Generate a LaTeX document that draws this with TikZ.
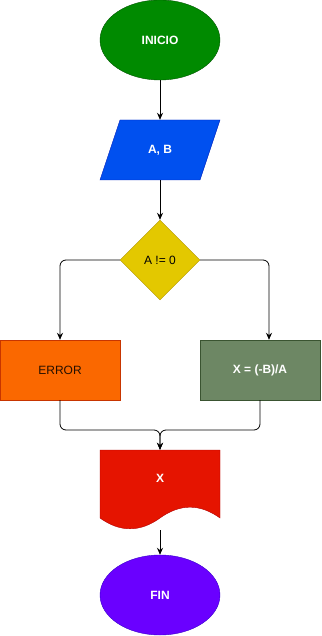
\documentclass[tikz,border=0pt]{standalone}
\usepackage{fontspec}
\setmainfont{Liberation Sans}
\usetikzlibrary{arrows.meta, calc, shapes.geometric}

\definecolor{verde}{HTML}{008A00}
\definecolor{verdeb}{HTML}{005700}
\definecolor{azul}{HTML}{0050EF}
\definecolor{azulb}{HTML}{001DBC}
\definecolor{amarillo}{HTML}{E3C800}
\definecolor{amarillob}{HTML}{B09500}
\definecolor{naranja}{HTML}{FA6800}
\definecolor{naranjab}{HTML}{C73500}
\definecolor{oliva}{HTML}{6D8764}
\definecolor{olivab}{HTML}{3A5431}
\definecolor{rojo}{HTML}{E51400}
\definecolor{rojob}{HTML}{B20000}
\definecolor{morado}{HTML}{6A00FF}
\definecolor{moradob}{HTML}{3700CC}

\tikzset{
    terminal/.style={ellipse, minimum width=120, minimum height=80, inner sep=0pt,
        text=white, font=\fontsize{12}{14}\selectfont\bfseries},
    proceso/.style={rectangle, minimum width=120, minimum height=60, inner sep=0pt,
        font=\fontsize{12}{14}\selectfont},
    flecha/.style={-{Stealth[length=7pt, width=6pt]}, thick, rounded corners=6pt},
}

\begin{document}
\begin{tikzpicture}[x=1pt, y=-1pt]
    \useasboundingbox (0,0) rectangle (321,636);

    % inicio y lectura de datos
    \node [terminal, fill=verde, draw=verdeb] (inicio) at (160,40) {INICIO};
    \path [fill=azul, draw=azulb] (120,120) -- (220,120) -- (200,180) -- (100,180) -- cycle;
    \node [text=white, font=\fontsize{12}{14}\selectfont\bfseries, minimum width=100,
        minimum height=60] (leer) at (160,150) {A, B};

    % decision
    \node [diamond, aspect=1, minimum width=80, minimum height=80, inner sep=0pt,
        fill=amarillo, draw=amarillob, font=\fontsize{12}{14}\selectfont] (cond) at (160,260) {A != 0};

    \node [proceso, fill=naranja, draw=naranjab, text=black!85!naranja] (error) at (60,370) {ERROR};
    \node [proceso, fill=oliva, draw=olivab, text=white, font=\fontsize{12}{14}\selectfont\bfseries]
        (calc) at (260,370) {X = (-B)/A};

    % documento de salida
    \path [fill=rojo, draw=rojob] (100,450) -- (220,450) -- (220,518)
        .. controls (200,503.6) and (180,503.6) .. (160,518)
        .. controls (140,532.4) and (120,532.4) .. (100,518) -- cycle;
    \node [minimum width=120, minimum height=80, inner sep=0pt] (salida) at (160,490) {};
    \node [text=white, font=\fontsize{12}{14}\selectfont\bfseries] (x) at (160,478) {X};
    \coordinate (union) at (160,430);

    \node [terminal, fill=morado, draw=moradob] (fin) at (160,595) {FIN};

    % conectores
    \draw [flecha] (inicio.south) -- (leer.north);
    \draw [flecha] (leer.south) -- (cond.north);
    \draw [flecha] (cond.west) -| (error.north);
    \draw [flecha] (cond.east) -| ($(calc.north)+(9,0)$);
    \draw [flecha] (error.south) |- (union) -- (salida.north);
    \draw [flecha] (calc.south) |- (union) -- (salida.north);
    \draw [flecha] (salida.south) -- (fin.north);
\end{tikzpicture}
\end{document}
